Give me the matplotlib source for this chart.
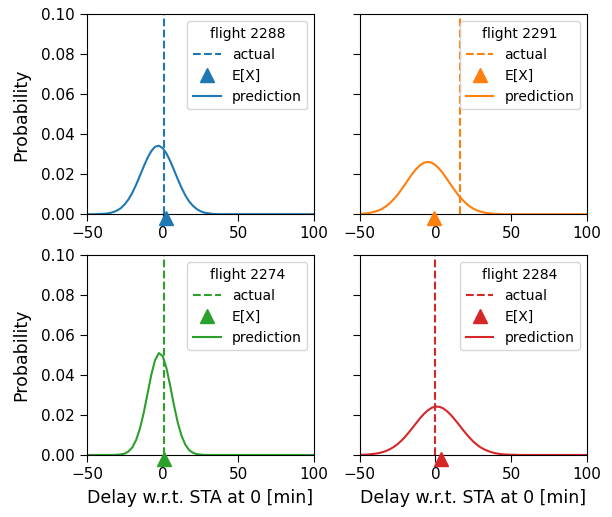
import numpy as np
import matplotlib
matplotlib.use("Agg")
from matplotlib import pyplot as plt

# delay grid [min]
delay = np.arange(-50, 100.1, 2.5)

flights = ["2288", "2291", "2274", "2284"]
colors = ["#1f77b4", "#ff7f0e", "#2ca02c", "#d62728"]

# observed delay and expected value per flight
actual = [1, 16, 1, 0]
expected = [2, -1, 1, 4]

# predicted probability per delay value
pred_2288 = [0.0, 0.0, 0.0, 0.0001, 0.0002, 0.0003, 0.0006, 0.0011, 0.0019, 0.0031,
             0.0050, 0.0075, 0.0108, 0.0148, 0.0193, 0.0239, 0.0282, 0.0316, 0.0338, 0.0343,
             0.0331, 0.0304, 0.0266, 0.0221, 0.0175, 0.0132, 0.0094, 0.0064, 0.0042, 0.0026,
             0.0015, 0.0008, 0.0005, 0.0002, 0.0001, 0.0, 0.0, 0.0, 0.0, 0.0,
             0.0, 0.0, 0.0, 0.0, 0.0, 0.0, 0.0, 0.0, 0.0, 0.0,
             0.0, 0.0, 0.0, 0.0, 0.0, 0.0, 0.0, 0.0, 0.0, 0.0, 0.0]
pred_2291 = [0.0002, 0.0003, 0.0005, 0.0008, 0.0013, 0.0019, 0.0028, 0.0040, 0.0056, 0.0075,
             0.0097, 0.0123, 0.0150, 0.0178, 0.0205, 0.0228, 0.0246, 0.0258, 0.0262, 0.0258,
             0.0246, 0.0228, 0.0205, 0.0178, 0.0150, 0.0123, 0.0097, 0.0075, 0.0056, 0.0040,
             0.0028, 0.0019, 0.0013, 0.0008, 0.0005, 0.0003, 0.0002, 0.0001, 0.0, 0.0,
             0.0, 0.0, 0.0, 0.0, 0.0, 0.0, 0.0, 0.0, 0.0, 0.0,
             0.0, 0.0, 0.0, 0.0, 0.0, 0.0, 0.0, 0.0, 0.0, 0.0, 0.0]
pred_2274 = [0.0, 0.0, 0.0, 0.0, 0.0, 0.0, 0.0, 0.0, 0.0001, 0.0003,
             0.0007, 0.0018, 0.0038, 0.0075, 0.0132, 0.0211, 0.0306, 0.0401, 0.0475, 0.0510,
             0.0495, 0.0435, 0.0345, 0.0248, 0.0161, 0.0095, 0.0051, 0.0024, 0.0011, 0.0004,
             0.0002, 0.0, 0.0, 0.0, 0.0, 0.0, 0.0, 0.0, 0.0, 0.0,
             0.0, 0.0, 0.0, 0.0, 0.0, 0.0, 0.0, 0.0, 0.0, 0.0,
             0.0, 0.0, 0.0, 0.0, 0.0, 0.0, 0.0, 0.0, 0.0, 0.0, 0.0]
pred_2284 = [0.0001, 0.0001, 0.0002, 0.0004, 0.0006, 0.0009, 0.0014, 0.0020, 0.0029, 0.0040,
             0.0054, 0.0071, 0.0091, 0.0113, 0.0137, 0.0161, 0.0185, 0.0206, 0.0223, 0.0236,
             0.0242, 0.0241, 0.0234, 0.0220, 0.0202, 0.0180, 0.0157, 0.0132, 0.0109, 0.0087,
             0.0067, 0.0051, 0.0037, 0.0027, 0.0019, 0.0013, 0.0008, 0.0005, 0.0003, 0.0002,
             0.0001, 0.0001, 0.0, 0.0, 0.0, 0.0, 0.0, 0.0, 0.0, 0.0,
             0.0, 0.0, 0.0, 0.0, 0.0, 0.0, 0.0, 0.0, 0.0, 0.0, 0.0]
predictions = [pred_2288, pred_2291, pred_2274, pred_2284]

fig, axes = plt.subplots(2, 2, figsize=(6.12, 5.17), dpi=100, sharey=True)
fig.subplots_adjust(left=0.142, right=0.959, top=0.972, bottom=0.12, wspace=0.2, hspace=0.205)

for ax, flight, c, act, ex, pred in zip(axes.flat, flights, colors, actual, expected, predictions):
    ax.axvline(act, color=c, linestyle="--", label="actual")
    ax.plot(ex, -0.002, marker="^", color=c, markersize=10, linestyle="none",
            clip_on=False, zorder=5, label="E[X]")
    ax.plot(delay, pred, color=c, label="prediction")
    ax.set_xlim(-50, 100)
    ax.set_ylim(0, 0.1)
    ax.tick_params(labelsize=11, length=5)
    ax.legend(title="flight " + flight, loc="upper right", fontsize=10, title_fontsize=10)

for ax in axes[:, 0]:
    ax.set_ylabel("Probability", fontsize=12.5, labelpad=8)
for ax in axes[1, :]:
    ax.set_xlabel("Delay w.r.t. STA at 0 [min]", fontsize=12.5, labelpad=5.5)

plt.savefig("out.png")
